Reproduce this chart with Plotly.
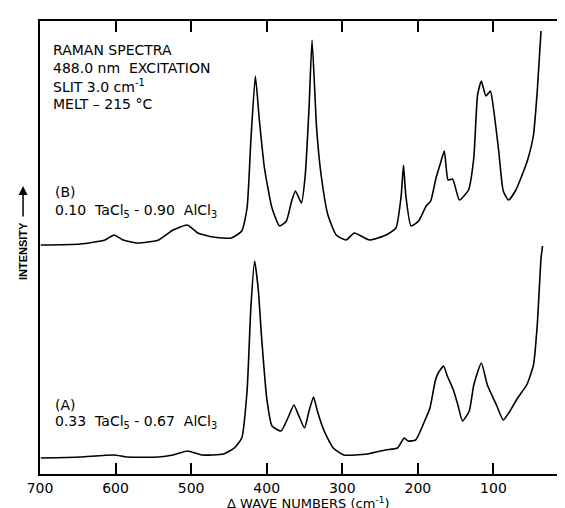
import plotly.graph_objects as go

# Trace B: 0.10 TaCl5 - 0.90 AlCl3 (upper spectrum)
wn_b = [699, 647, 614, 602, 590, 571, 543, 524, 505, 491, 471, 447, 433, 426, 421, 415,
        410, 403, 393, 383, 374, 367, 362, 354, 349, 344, 340, 334, 328, 319, 308, 295,
        284, 264, 242, 229, 222, 219, 216, 209, 199, 189, 183, 176, 170, 165, 160, 154,
        145, 133, 126, 121, 116, 110, 104, 100, 93, 87, 80, 71, 60, 54, 47, 42, 37]
int_b = [229, 230, 234, 239, 234, 231, 234, 244, 249, 241, 237, 236, 243, 266, 333, 398,
         356, 306, 266, 248, 253, 273, 283, 271, 299, 366, 434, 346, 299, 259, 239, 234,
         241, 234, 239, 246, 279, 309, 279, 248, 253, 268, 273, 296, 311, 323, 294, 295,
         274, 284, 316, 379, 393, 378, 383, 366, 323, 283, 274, 283, 303, 316, 339, 383, 443]

# Trace A: 0.33 TaCl5 - 0.67 AlCl3 (lower spectrum)
wn_a = [699, 647, 602, 585, 543, 524, 505, 486, 457, 443, 433, 426, 421, 416, 411, 407,
        400, 393, 381, 372, 364, 358, 350, 344, 338, 333, 324, 312, 298, 267, 243, 227,
        218, 213, 203, 191, 184, 177, 173, 166, 161, 153, 147, 141, 132, 126, 116, 108,
        96, 87, 78, 68, 56, 47, 42, 37, 35]
int_a = [16, 17, 19, 17, 17, 19, 23, 19, 20, 26, 36, 83, 166, 213, 183, 139,
         76, 48, 43, 56, 69, 59, 46, 63, 77, 63, 43, 26, 19, 20, 24, 26,
         36, 33, 34, 53, 66, 93, 101, 108, 98, 84, 69, 53, 63, 89, 111, 89,
         69, 54, 63, 76, 89, 109, 149, 216, 228]

tick_vals = [700, 600, 500, 400, 300, 200, 100, 0]
tick_text = ["700", "600", "500", "400", "300", "200", "100", "0"]

W, H = 565, 508
L, R, T, B = 32, 2, 13, 42
PW, PH = W - L - R, H - T - B

def px(xp):
    return (xp - L) / PW

def py(yp):
    return (H - B - yp) / PH

FONT = "DejaVu Sans"

fig = go.Figure()
for wn, iv in ((wn_b, int_b), (wn_a, int_a)):
    fig.add_trace(go.Scatter(x=wn, y=iv, mode="lines",
                             line=dict(color="black", width=1.6, shape="spline", smoothing=0.5),
                             showlegend=False, hoverinfo="skip"))

fig.update_xaxes(range=[700, 0], tickvals=tick_vals, ticktext=tick_text,
                 ticks="inside", ticklen=11, tickwidth=1.5, tickcolor="black",
                 showline=True, linecolor="black", linewidth=1.8, mirror="ticks",
                 showgrid=False, zeroline=False,
                 tickfont=dict(family=FONT, size=14, color="black"))
fig.update_yaxes(range=[0, PH], showticklabels=False, ticks="",
                 showline=True, linecolor="black", linewidth=1.8, mirror=True,
                 showgrid=False, zeroline=False)

anns = []
def txt(s, xp, yp, size=14, anchor="left"):
    anns.append(dict(text=s, x=px(xp), y=py(yp), xref="paper", yref="paper",
                     xanchor=anchor, yanchor="middle", showarrow=False,
                     font=dict(family=FONT, size=size, color="black")))

txt("RAMAN SPECTRA", 43, 42)
txt("488.0 nm  EXCITATION", 43, 60)
txt("SLIT 3.0 cm<sup>-1</sup>", 43, 78)
txt("MELT – 215 °C", 43, 96)
txt("(B)", 45, 184)
txt("0.10  TaCl<sub>5</sub> - 0.90  AlCl<sub>3</sub>", 45, 203)
txt("(A)", 45, 397)
txt("0.33  TaCl<sub>5</sub> - 0.67  AlCl<sub>3</sub>", 45, 414)
txt("Δ WAVE NUMBERS (cm<sup>-1</sup>)", 302, 495, size=13, anchor="center")

anns.append(dict(text="<b>INTENSITY</b>", x=px(15), y=py(243), xref="paper", yref="paper",
                 xanchor="center", yanchor="middle", showarrow=False, textangle=-90,
                 font=dict(family="Liberation Sans", size=11, color="black")))
anns.append(dict(text="", x=px(15), y=py(178), xref="paper", yref="paper",
                 ax=0, ay=32, axref="pixel", ayref="pixel", showarrow=True,
                 arrowhead=2, arrowsize=1.2, arrowwidth=1.5, arrowcolor="black"))

fig.update_layout(width=W, height=H, margin=dict(l=L, r=R, t=T, b=B),
                  paper_bgcolor="white", plot_bgcolor="white",
                  annotations=anns, font=dict(family=FONT, color="black"))

fig.write_html("out.html")
